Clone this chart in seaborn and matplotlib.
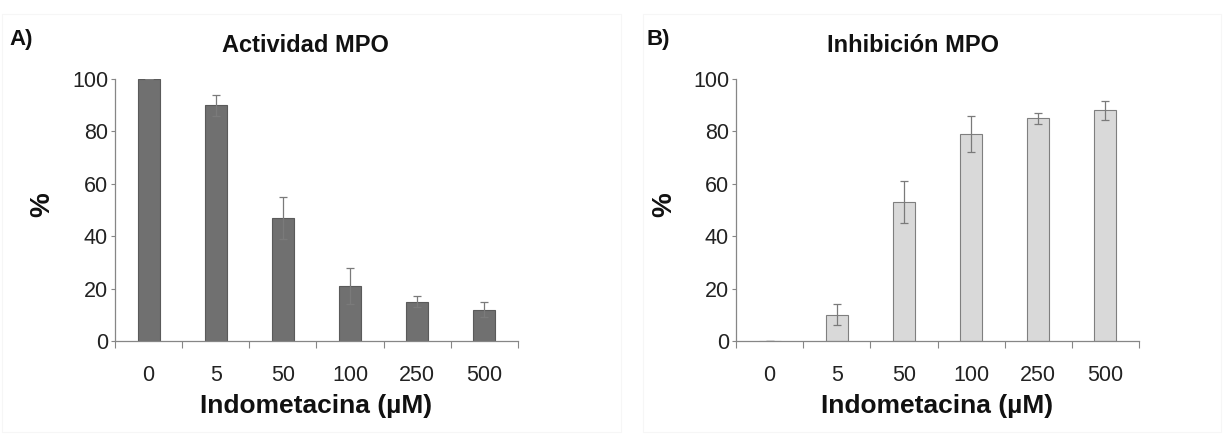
import numpy as np
import pandas as pd
import seaborn as sns
import matplotlib.pyplot as plt
from matplotlib.ticker import FixedLocator
from matplotlib.patches import Rectangle

sns.set_style("white")
plt.rcParams['font.family'] = ['Liberation Sans', 'DejaVu Sans']

doses = ["0", "5", "50", "100", "250", "500"]
actividad = [100, 90, 47, 21, 15, 12]
actividad_err = [0, 4, 8, 7, 2, 3]
inhibicion = [0, 10, 53, 79, 85, 88]
inhibicion_err = [0, 4, 8, 7, 2, 3.5]

W, H = 1223, 434
fig = plt.figure(figsize=(W / 100, H / 100), dpi=100)

# very faint frames around each panel, as in the original figure
for x0, x1 in [(2, 621), (643, 1221)]:
    fig.patches.append(Rectangle((x0 / W, 0.005), (x1 - x0) / W, 1 - 14 / H - 0.005,
                                 transform=fig.transFigure, fill=False,
                                 edgecolor="#f6f6f6", linewidth=0.8))

def px_axes(x0, y0, x1, y1):
    return fig.add_axes([x0 / W, 1 - y1 / H, (x1 - x0) / W, (y1 - y0) / H])

def draw_panel(ax, values, errs, color, edge, letter, title, lx, tx, ylx):
    df = pd.DataFrame({"dose": doses, "value": values})
    sns.barplot(data=df, x="dose", y="value", ax=ax, color=color, width=0.33,
                edgecolor=edge, linewidth=0.8, saturation=1, errorbar=None)
    ax.errorbar(range(len(doses)), values, yerr=errs, fmt="none",
                ecolor="#7a7a7a", elinewidth=0.9, capsize=3, capthick=0.9)
    ax.set_xlim(-0.5, len(doses) - 0.5)
    ax.set_ylim(0, 100)
    ax.set_yticks([0, 20, 40, 60, 80, 100])
    ax.xaxis.set_minor_locator(FixedLocator(np.arange(-0.5, len(doses), 1.0)))
    ax.tick_params(axis="x", which="major", length=0, pad=17, labelsize=15.5,
                   labelcolor="#222222")
    ax.tick_params(axis="x", which="minor", length=5, width=0.8, color="#868686",
                   direction="out", bottom=True)
    ax.tick_params(axis="y", length=3, width=0.8, color="#868686", direction="out",
                   left=True, labelsize=15.5, labelcolor="#222222", pad=2)
    for side in ["top", "right"]:
        ax.spines[side].set_visible(False)
    for side in ["left", "bottom"]:
        ax.spines[side].set_color("#868686")
        ax.spines[side].set_linewidth(0.9)
    ax.set_xlabel("Indometacina (µM)", fontsize=19, fontweight="bold",
                  color="#111111", labelpad=6)
    ax.set_ylabel("")
    fig.text(ylx / W, 1 - 205 / H, "%", rotation=90, fontsize=20, fontweight="bold",
             color="#111111", ha="center", va="center")
    fig.text(lx / W, 1 - 40 / H, letter, fontsize=16, fontweight="bold",
             color="#111111", ha="left", va="center")
    fig.text(tx / W, 1 - 46 / H, title, fontsize=17, fontweight="bold",
             color="#111111", ha="center", va="center")

ax_a = px_axes(115, 79, 518, 341)
draw_panel(ax_a, actividad, actividad_err, "#707070", "#5a5a5a",
           "A)", "Actividad MPO", 9, 305, 42)

ax_b = px_axes(736, 79, 1139, 341)
draw_panel(ax_b, inhibicion, inhibicion_err, "#d9d9d9", "#7f7f7f",
           "B)", "Inhibición MPO", 646, 913, 664)

fig.savefig("out.png", dpi=100, facecolor="white")
